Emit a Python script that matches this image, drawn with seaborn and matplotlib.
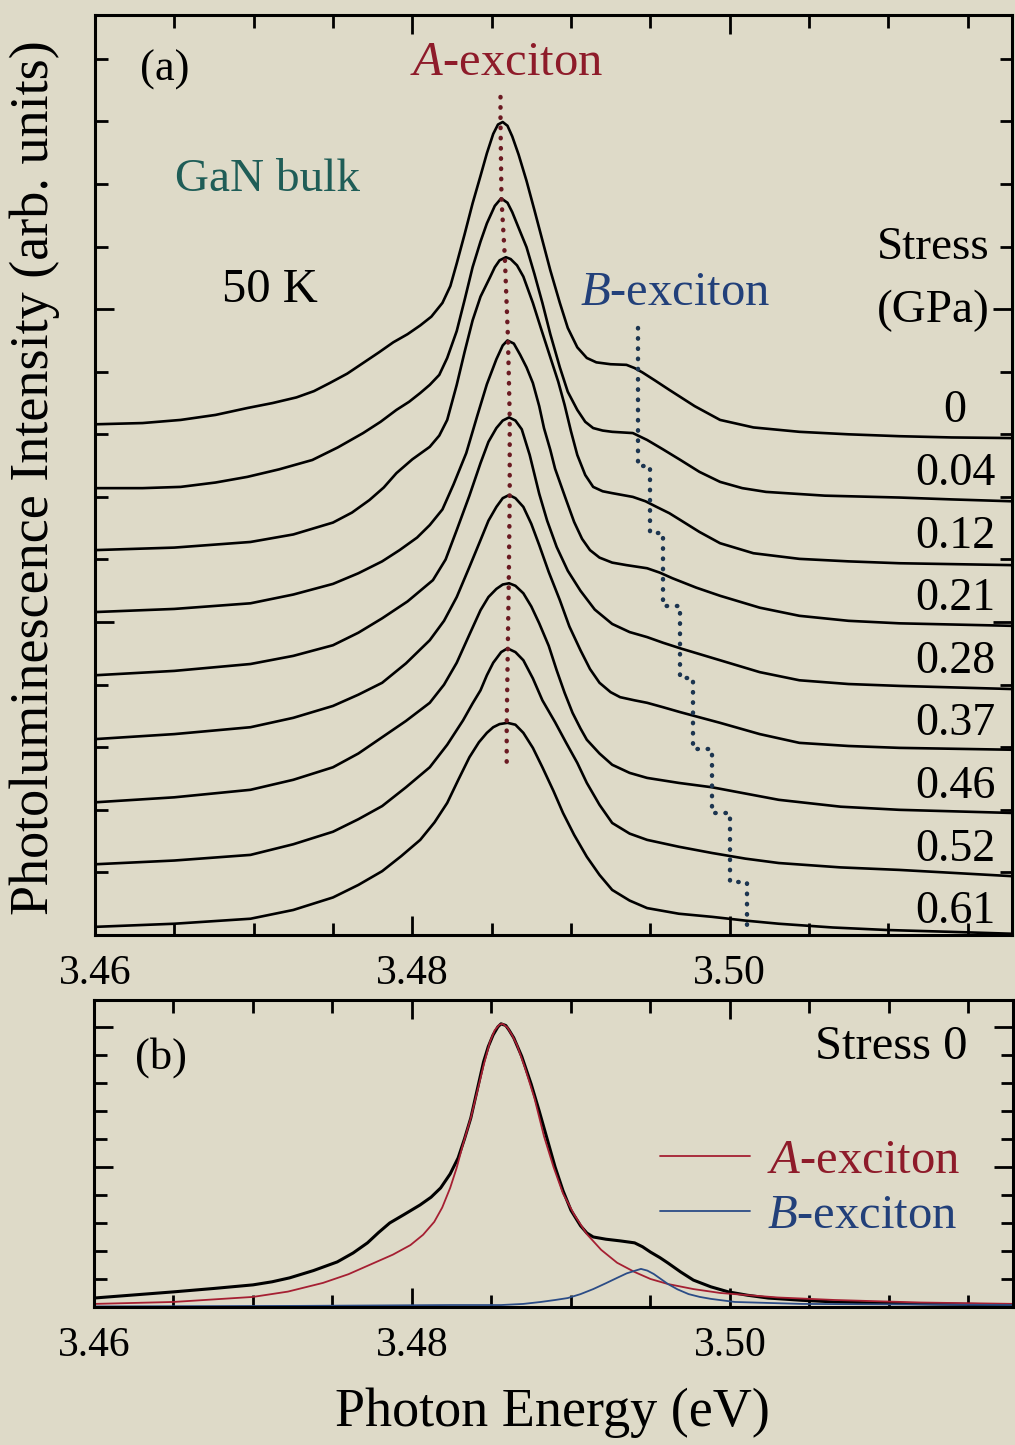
import numpy as np
import pandas as pd
import matplotlib
matplotlib.use("Agg")
import matplotlib.pyplot as plt
from matplotlib.ticker import MultipleLocator, FormatStrFormatter
import seaborn as sns

# ---------------- data ----------------
stress_labels = ["0", "0.04", "0.12", "0.21", "0.28", "0.37", "0.46", "0.52", "0.61"]

E0 = [3.4600, 3.4630, 3.4654, 3.4676, 3.4696, 3.4712, 3.4727, 3.4738, 3.4748, 3.4759, 3.4769, 3.4779, 3.4788, 3.4797,
      3.4805, 3.4812, 3.4819, 3.4824, 3.4828, 3.4833, 3.4838, 3.4843, 3.4847, 3.4851, 3.4854, 3.4857, 3.4860, 3.4863,
      3.4867, 3.4872, 3.4877, 3.4882, 3.4887, 3.4893, 3.4898, 3.4904, 3.4910, 3.4916, 3.4925, 3.4935, 3.4940, 3.4945,
      3.4953, 3.4962, 3.4978, 3.4994, 3.5015, 3.5044, 3.5075, 3.5107, 3.5140, 3.5178]
I0 = [0.16, 0.18, 0.23, 0.31, 0.42, 0.50, 0.59, 0.69, 0.82, 0.97, 1.14, 1.31, 1.47, 1.60,
      1.74, 1.88, 2.10, 2.37, 2.73, 3.20, 3.69, 4.13, 4.49, 4.80, 4.95, 4.99, 4.93, 4.76,
      4.47, 4.05, 3.58, 3.10, 2.62, 2.10, 1.70, 1.39, 1.22, 1.15, 1.12, 1.11, 1.06, 0.99,
      0.86, 0.71, 0.45, 0.23, 0.11, 0.04, 0.00, -0.03, -0.05, -0.06]

E1 = [3.4600, 3.4630, 3.4654, 3.4676, 3.4696, 3.4716, 3.4737, 3.4753, 3.4769, 3.4780, 3.4790, 3.4798, 3.4805, 3.4811,
      3.4817, 3.4822, 3.4828, 3.4833, 3.4838, 3.4843, 3.4847, 3.4852, 3.4856, 3.4860, 3.4863, 3.4867, 3.4872, 3.4877,
      3.4882, 3.4887, 3.4893, 3.4898, 3.4904, 3.4909, 3.4914, 3.4920, 3.4926, 3.4939, 3.4948, 3.4958, 3.4969, 3.4981,
      3.4994, 3.5008, 3.5023, 3.5060, 3.5107, 3.5140, 3.5178]
I1 = [0.14, 0.14, 0.16, 0.23, 0.32, 0.44, 0.59, 0.79, 1.02, 1.20, 1.39, 1.52, 1.66, 1.79,
      1.95, 2.22, 2.65, 3.15, 3.67, 4.08, 4.37, 4.65, 4.77, 4.70, 4.55, 4.30, 3.99, 3.56,
      3.10, 2.60, 2.07, 1.68, 1.39, 1.20, 1.10, 1.06, 1.04, 1.02, 0.91, 0.76, 0.59, 0.40,
      0.24, 0.14, 0.08, 0.02, -0.01, -0.04, -0.07]

E2 = [3.4600, 3.4650, 3.4698, 3.4725, 3.4750, 3.4762, 3.4773, 3.4782, 3.4790, 3.4800, 3.4811, 3.4817, 3.4822, 3.4828,
      3.4833, 3.4838, 3.4843, 3.4849, 3.4852, 3.4855, 3.4859, 3.4862, 3.4866, 3.4870, 3.4876, 3.4881, 3.4887, 3.4892,
      3.4896, 3.4900, 3.4904, 3.4909, 3.4914, 3.4920, 3.4926, 3.4939, 3.4947, 3.4954, 3.4962, 3.4969, 3.4981, 3.4994,
      3.5015, 3.5044, 3.5075, 3.5107, 3.5178]
I2 = [0.15, 0.19, 0.28, 0.40, 0.59, 0.75, 0.95, 1.15, 1.38, 1.60, 1.80, 1.98, 2.23, 2.79,
      3.32, 3.82, 4.20, 4.51, 4.67, 4.78, 4.83, 4.80, 4.70, 4.52, 4.10, 3.70, 3.23, 2.84,
      2.47, 2.05, 1.67, 1.35, 1.16, 1.09, 1.06, 1.00, 0.93, 0.84, 0.74, 0.63, 0.44, 0.26,
      0.10, 0.01, -0.03, -0.06, -0.09]

E3 = [3.4600, 3.4650, 3.4698, 3.4725, 3.4750, 3.4766, 3.4781, 3.4792, 3.4803, 3.4811, 3.4819, 3.4826, 3.4834, 3.4841,
      3.4847, 3.4853, 3.4857, 3.4860, 3.4864, 3.4868, 3.4872, 3.4876, 3.4880, 3.4883, 3.4887, 3.4890, 3.4897, 3.4902,
      3.4907, 3.4912, 3.4918, 3.4926, 3.4935, 3.4948, 3.4956, 3.4964, 3.4979, 3.4994, 3.5019, 3.5044, 3.5075, 3.5107,
      3.5178]
I3 = [0.16, 0.21, 0.30, 0.44, 0.61, 0.78, 0.97, 1.15, 1.35, 1.55, 1.80, 2.20, 2.70, 3.30,
      3.80, 4.20, 4.42, 4.50, 4.45, 4.27, 4.07, 3.82, 3.45, 3.10, 2.75, 2.45, 1.95, 1.60,
      1.33, 1.15, 1.03, 0.95, 0.91, 0.86, 0.79, 0.70, 0.55, 0.42, 0.23, 0.10, 0.02, -0.02,
      -0.06]

E4 = [3.4600, 3.4650, 3.4698, 3.4725, 3.4750, 3.4766, 3.4781, 3.4797, 3.4813, 3.4821, 3.4828, 3.4836, 3.4843, 3.4848,
      3.4853, 3.4857, 3.4861, 3.4865, 3.4869, 3.4874, 3.4880, 3.4885, 3.4891, 3.4898, 3.4906, 3.4915, 3.4926, 3.4937,
      3.4948, 3.4958, 3.4969, 3.4994, 3.5019, 3.5044, 3.5075, 3.5107, 3.5178]
I4 = [0.15, 0.22, 0.33, 0.46, 0.63, 0.83, 1.06, 1.33, 1.67, 2.00, 2.47, 3.02, 3.54, 3.88,
      4.10, 4.22, 4.27, 4.22, 4.08, 3.67, 3.05, 2.62, 2.20, 1.82, 1.50, 1.20, 0.97, 0.84,
      0.76, 0.67, 0.58, 0.39, 0.20, 0.07, 0.01, -0.02, -0.07]

E5 = [3.4600, 3.4650, 3.4698, 3.4725, 3.4750, 3.4766, 3.4781, 3.4796, 3.4811, 3.4820, 3.4828, 3.4836, 3.4843, 3.4848,
      3.4853, 3.4857, 3.4861, 3.4865, 3.4870, 3.4875, 3.4880, 3.4886, 3.4893, 3.4899, 3.4906, 3.4912, 3.4918, 3.4925,
      3.4931, 3.4940, 3.4948, 3.4958, 3.4969, 3.4994, 3.5019, 3.5044, 3.5075, 3.5107, 3.5178]
I5 = [0.13, 0.21, 0.32, 0.47, 0.66, 0.84, 1.03, 1.34, 1.71, 2.02, 2.40, 2.88, 3.31, 3.62,
      3.84, 3.98, 4.03, 3.98, 3.84, 3.57, 3.23, 2.80, 2.35, 1.93, 1.55, 1.25, 1.03, 0.88,
      0.80, 0.75, 0.71, 0.64, 0.56, 0.39, 0.21, 0.07, 0.02, -0.01, -0.04]

E6 = [3.4600, 3.4650, 3.4698, 3.4725, 3.4750, 3.4766, 3.4781, 3.4796, 3.4811, 3.4820, 3.4828, 3.4836, 3.4843, 3.4848,
      3.4853, 3.4857, 3.4861, 3.4865, 3.4870, 3.4875, 3.4880, 3.4886, 3.4891, 3.4896, 3.4901, 3.4906, 3.4910, 3.4918,
      3.4926, 3.4937, 3.4948, 3.4968, 3.4989, 3.5010, 3.5031, 3.5070, 3.5107, 3.5178]
I6 = [0.12, 0.20, 0.32, 0.48, 0.68, 0.90, 1.16, 1.42, 1.71, 2.00, 2.35, 2.80, 3.19, 3.40,
      3.53, 3.60, 3.62, 3.58, 3.46, 3.25, 2.98, 2.62, 2.23, 1.87, 1.55, 1.30, 1.12, 0.90,
      0.72, 0.59, 0.51, 0.43, 0.36, 0.26, 0.16, 0.05, 0.00, -0.05]

E7 = [3.4600, 3.4650, 3.4698, 3.4725, 3.4750, 3.4766, 3.4781, 3.4796, 3.4811, 3.4822, 3.4832, 3.4838, 3.4843, 3.4847,
      3.4851, 3.4856, 3.4860, 3.4865, 3.4870, 3.4876, 3.4882, 3.4890, 3.4897, 3.4904, 3.4910, 3.4918, 3.4926, 3.4937,
      3.4948, 3.4968, 3.4989, 3.5010, 3.5031, 3.5070, 3.5107, 3.5178]
I7 = [0.13, 0.19, 0.28, 0.45, 0.65, 0.85, 1.06, 1.36, 1.68, 2.04, 2.43, 2.70, 2.91, 3.15,
      3.35, 3.52, 3.58, 3.52, 3.39, 3.10, 2.75, 2.40, 2.07, 1.75, 1.43, 1.08, 0.79, 0.62,
      0.52, 0.41, 0.31, 0.22, 0.15, 0.08, 0.04, -0.06]

E8 = [3.4600, 3.4650, 3.4698, 3.4725, 3.4750, 3.4766, 3.4781, 3.4793, 3.4805, 3.4814, 3.4822, 3.4829, 3.4836, 3.4842,
      3.4847, 3.4851, 3.4855, 3.4860, 3.4865, 3.4870, 3.4876, 3.4882, 3.4889, 3.4895, 3.4902, 3.4910, 3.4918, 3.4926,
      3.4937, 3.4948, 3.4968, 3.4989, 3.5010, 3.5031, 3.5065, 3.5099, 3.5140, 3.5178]
I8 = [0.13, 0.18, 0.26, 0.40, 0.60, 0.80, 1.02, 1.26, 1.52, 1.80, 2.11, 2.48, 2.84, 3.08,
      3.23, 3.32, 3.37, 3.39, 3.36, 3.23, 2.99, 2.68, 2.30, 1.95, 1.60, 1.25, 0.96, 0.72,
      0.55, 0.43, 0.34, 0.29, 0.23, 0.18, 0.12, 0.08, 0.05, 0.02]

spectra_E = [E0, E1, E2, E3, E4, E5, E6, E7, E8]
spectra_I = [I0, I1, I2, I3, I4, I5, I6, I7, I8]
stack_offsets = [8, 7, 6, 5, 4, 3, 2, 1, 0]

# A-exciton guide (dotted) through the peaks
A_line_E = [3.48556, 3.48556, 3.48562, 3.48583, 3.48603, 3.48614, 3.48614, 3.48608, 3.48602, 3.48595, 3.48595]
A_line_I = [13.39, 12.99, 11.77, 10.84, 9.53, 8.28, 7.03, 5.63, 4.58, 3.37, 2.67]

# B-exciton guide (dotted staircase)
B_step_E = [3.4942, 3.4950, 3.4958, 3.4969, 3.4977, 3.4989, 3.5000, 3.5011]
B_step_edges = [9.70, 7.49, 6.42, 5.26, 4.11, 2.97, 1.95, 0.85, 0.08]

# panel (b): measured spectrum at stress 0 and its two fitted components
Eb_meas = [3.4600, 3.4625, 3.4650, 3.4675, 3.4700, 3.4712, 3.4723, 3.4738, 3.4753, 3.4763, 3.4772, 3.4779, 3.4786,
           3.4795, 3.4805, 3.4812, 3.4818, 3.4824, 3.4829, 3.4833, 3.4837, 3.4841, 3.4845, 3.4848, 3.4851, 3.4854,
           3.4856, 3.4859, 3.4861, 3.4864, 3.4869, 3.4875, 3.4880, 3.4885, 3.4890, 3.4895, 3.4900, 3.4906, 3.4910,
           3.4914, 3.4922, 3.4931, 3.4940, 3.4945, 3.4950, 3.4956, 3.4961, 3.4969, 3.4977, 3.4988, 3.4999, 3.5011,
           3.5024, 3.5045, 3.5066, 3.5097, 3.5128, 3.5180]
Ib_meas = [0.32, 0.43, 0.54, 0.66, 0.79, 0.90, 1.04, 1.30, 1.61, 1.93, 2.29, 2.66, 3.00,
           3.30, 3.64, 3.92, 4.25, 4.75, 5.32, 6.00, 6.75, 7.75, 8.75, 9.30, 9.71, 10.00,
           10.11, 10.05, 9.89, 9.61, 8.95, 7.95, 7.00, 6.00, 5.00, 4.15, 3.45, 2.90, 2.64,
           2.50, 2.42, 2.36, 2.29, 2.15, 1.96, 1.76, 1.57, 1.25, 0.96, 0.72, 0.54, 0.42,
           0.32, 0.24, 0.18, 0.14, 0.11, 0.07]

Ea_fit = [3.4600, 3.4650, 3.4700, 3.4722, 3.4744, 3.4760, 3.4776, 3.4788, 3.4799, 3.4807, 3.4814, 3.4819, 3.4824,
          3.4828, 3.4832, 3.4837, 3.4841, 3.4845, 3.4849, 3.4852, 3.4855, 3.4857, 3.4860, 3.4863, 3.4866, 3.4871,
          3.4877, 3.4883, 3.4889, 3.4895, 3.4902, 3.4910, 3.4919, 3.4929, 3.4940, 3.4950, 3.4961, 3.4977, 3.4994,
          3.5030, 3.5066, 3.5120, 3.5180]
Ia_fit = [0.11, 0.18, 0.36, 0.55, 0.86, 1.17, 1.57, 1.87, 2.21, 2.58, 3.04, 3.55, 4.25,
          4.95, 5.79, 6.75, 7.68, 8.62, 9.46, 9.88, 10.08, 10.11, 9.98, 9.70, 9.36, 8.55,
          7.46, 6.10, 5.00, 4.05, 3.30, 2.60, 2.04, 1.58, 1.25, 1.00, 0.82, 0.64, 0.50,
          0.34, 0.25, 0.16, 0.11]

EB_fit = [3.4600, 3.4730, 3.4824, 3.4856, 3.4870, 3.4881, 3.4890, 3.4898, 3.4906, 3.4914, 3.4922, 3.4929, 3.4935,
          3.4940, 3.4944, 3.4948, 3.4952, 3.4956, 3.4961, 3.4967, 3.4974, 3.4981, 3.4988, 3.5003, 3.5045, 3.5180]
IB_fit = [0.02, 0.04, 0.07, 0.07, 0.11, 0.18, 0.25, 0.32, 0.46, 0.64, 0.85, 1.04, 1.20,
          1.29, 1.36, 1.30, 1.18, 1.02, 0.82, 0.63, 0.46, 0.36, 0.29, 0.18, 0.11, 0.07]

# ---------------- style ----------------
BG = "#dedac8"
RED_TXT = "#8e1b2a"
BLUE_TXT = "#22407a"
TEAL_TXT = "#1f5d57"
RED_LINE = "#a51f32"
BLUE_LINE = "#2b4c86"

sns.set_theme(style="ticks")
plt.rcParams["font.family"] = ["Liberation Serif", "DejaVu Serif"]
plt.rcParams["mathtext.fontset"] = "custom"
plt.rcParams["mathtext.it"] = "Liberation Serif:italic"
plt.rcParams["mathtext.rm"] = "Liberation Serif"
plt.rcParams["axes.facecolor"] = BG
plt.rcParams["figure.facecolor"] = BG
plt.rcParams["text.color"] = "black"
plt.rcParams["axes.labelcolor"] = "black"
plt.rcParams["xtick.color"] = "black"
plt.rcParams["ytick.color"] = "black"

W, H = 1015, 1445
fig = plt.figure(figsize=(W / 100, H / 100), dpi=100)
ax_a = fig.add_axes([95 / W, 1 - 935 / H, (1012 - 95) / W, (935 - 15) / H])
ax_b = fig.add_axes([94 / W, 1 - 1307 / H, (1013 - 94) / W, (1307 - 1000) / H])

# ---------------- panel (a) ----------------
for E, I, off in zip(spectra_E, spectra_I, stack_offsets):
    df = pd.DataFrame({"E": E, "I": np.asarray(I) + off})
    sns.lineplot(data=df, x="E", y="I", sort=False, estimator=None, color="black",
                 linewidth=1.9, ax=ax_a)

dfA = pd.DataFrame({"E": A_line_E, "I": A_line_I})
sns.lineplot(data=dfA, x="E", y="I", sort=False, estimator=None, color="#6a1a22",
             linewidth=3.2, linestyle=(0, (0.1, 2.2)), dash_capstyle="round", ax=ax_a)

bx, by = [], []
for i, e in enumerate(B_step_E):
    bx += [e, e]
    by += [B_step_edges[i], B_step_edges[i + 1]]
dfB = pd.DataFrame({"E": bx, "I": by})
sns.lineplot(data=dfB, x="E", y="I", sort=False, estimator=None, color="#1c3550",
             linewidth=3.2, linestyle=(0, (0.1, 2.2)), dash_capstyle="round", ax=ax_a)

for lab, off in zip(stress_labels, stack_offsets):
    ax_a.text(0.938, off + 0.37, lab, transform=ax_a.get_yaxis_transform(),
              ha="center", va="center", fontsize=33, color="black")

ax_a.text(0.049, 0.940, "(a)", transform=ax_a.transAxes, ha="left", va="center", fontsize=32)
ax_a.text(0.449, 0.948, r"$A$-exciton", transform=ax_a.transAxes, ha="center", va="center",
          fontsize=35, color=RED_TXT)
ax_a.text(0.087, 0.821, "GaN bulk", transform=ax_a.transAxes, ha="left", va="center",
          fontsize=34, color=TEAL_TXT)
ax_a.text(0.138, 0.701, "50 K", transform=ax_a.transAxes, ha="left", va="center", fontsize=35)
ax_a.text(0.529, 0.698, r"$B$-exciton", transform=ax_a.transAxes, ha="left", va="center",
          fontsize=35, color=BLUE_TXT)
ax_a.text(0.914, 0.747, "Stress", transform=ax_a.transAxes, ha="center", va="center", fontsize=34)
ax_a.text(0.914, 0.679, "(GPa)", transform=ax_a.transAxes, ha="center", va="center", fontsize=34)

ax_a.set_ylim(0, 14.7)

# ---------------- panel (b) ----------------
sns.lineplot(x=Eb_meas, y=Ib_meas, sort=False, estimator=None, color="black", linewidth=2.2, ax=ax_b)
sns.lineplot(x=Ea_fit, y=Ia_fit, sort=False, estimator=None, color=RED_LINE, linewidth=1.3,
             ax=ax_b, label=r"$A$-exciton")
sns.lineplot(x=EB_fit, y=IB_fit, sort=False, estimator=None, color=BLUE_LINE, linewidth=1.3,
             ax=ax_b, label=r"$B$-exciton")
ax_b.legend(loc="center right", bbox_to_anchor=(0.9423, 0.385), frameon=False, fontsize=35,
            handlelength=1.85, handletextpad=0.35, labelspacing=0.22, borderpad=0,
            borderaxespad=0, labelcolor=[RED_TXT, BLUE_TXT])
ax_b.text(0.045, 0.814, "(b)", transform=ax_b.transAxes, ha="left", va="center", fontsize=32)
ax_b.text(0.951, 0.847, "Stress 0", transform=ax_b.transAxes, ha="right", va="center", fontsize=35)
ax_b.set_ylim(0, 10.96)

# ---------------- axes styling ----------------
for ax in (ax_a, ax_b):
    ax.set_xlim(3.46, 3.5178)
    ax.xaxis.set_major_locator(MultipleLocator(0.02))
    ax.xaxis.set_minor_locator(MultipleLocator(0.005))
    ax.xaxis.set_major_formatter(FormatStrFormatter("%.2f"))
    ax.yaxis.set_major_locator(MultipleLocator(5))
    ax.yaxis.set_minor_locator(MultipleLocator(1))
    ax.tick_params(which="both", direction="in", top=True, right=True, labelleft=False,
                   color="black", labelcolor="black", width=2.0)
    ax.tick_params(which="major", length=14, labelsize=30, pad=14)
    ax.tick_params(which="minor", length=9)
    ax.set_xlabel("")
    ax.set_ylabel("")
    for sp in ax.spines.values():
        sp.set_linewidth(2.2)
        sp.set_color("black")
        sp.set_visible(True)

fig.text(35 / W, 1 - 478 / H, "Photoluminescence Intensity (arb. units)", rotation=90,
         ha="center", va="center", fontsize=39, color="black")
fig.text(552 / W, 1 - 1413 / H, "Photon Energy (eV)", ha="center", va="center", fontsize=39,
         color="black")

fig.savefig("out.png", dpi=100, facecolor=BG)
